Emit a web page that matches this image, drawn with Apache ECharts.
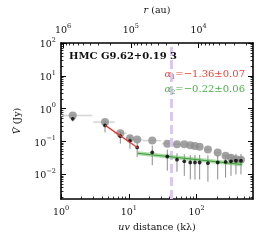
<!DOCTYPE html>
<html>
<head>
<meta charset="utf-8">
<script src="https://cdn.jsdelivr.net/npm/echarts@6/dist/echarts.min.js"></script>
<style>html,body{margin:0;padding:0;background:#fff}#c{width:265px;height:241px}</style>
</head>
<body>
<div id="c"></div>
<script>
// ---- data ----
const uv      = [1.49, 4.46, 7.5, 10.4, 13.3, 22.2, 37, 51.4, 65.9, 80.8, 94.7, 111, 147, 205, 268, 322, 381, 452];
const grayV   = [0.62, 0.39, 0.18, 0.127, 0.115, 0.107, 0.086, 0.083, 0.082, 0.077, 0.073, 0.069, 0.057, 0.046, 0.037, 0.032, 0.029, 0.028];
const blackV  = [0.49, 0.31, 0.146, 0.105, 0.066, 0.047, 0.035, 0.028, 0.025, 0.023, 0.023, 0.023, 0.022, 0.023, 0.024, 0.025, 0.026, 0.026];
const blackErr= [0.08, 0.12, 0.06, 0.045, 0.032, 0.028, 0.022, 0.016, 0.016, 0.016, 0.016, 0.016, 0.016, 0.016, 0.016, 0.016, 0.016, 0.016];
const binLo   = [1.0, 3.0, 6.0, 9.3, 11.7, 16, 31, 44, 58, 73, 88, 103, 130, 180, 245, 300, 355, 420];
const binHi   = [2.9, 6.2, 9.3, 11.7, 16, 30, 44, 58, 73, 88, 103, 118, 165, 230, 290, 345, 410, 480];
const fit1    = [[4.5, 0.31], [13.5, 0.065]];
const fit2    = [[13.5, 0.044], [470, 0.020]];
const markerUV = 42;
const alpha1Text = '−1.36±0.07';
const alpha2Text = '−0.22±0.06';
const titleText = 'HMC G9.62+0.19 3';
const auPerInvKl = 1.07e6; // r(au) = C / uv(kλ)
const xMin = 1, xMax = 680, yMin = 0.00178, yMax = 100;
const xMajor = [1, 10, 100];
const xMinor = [2,3,4,5,6,7,8,9,20,30,40,50,60,70,80,90,200,300,400,500,600];
const rMajor = [1e4, 1e5, 1e6];
const rMinor = [2e3,3e3,4e3,5e3,6e3,7e3,8e3,9e3,2e4,3e4,4e4,5e4,6e4,7e4,8e4,9e4,2e5,3e5,4e5,5e5,6e5,7e5,8e5,9e5];
const yMajor = [0.01, 0.1, 1, 10, 100];
const yMinor = [0.002,0.003,0.004,0.005,0.006,0.007,0.008,0.009,0.02,0.03,0.04,0.05,0.06,0.07,0.08,0.09,0.2,0.3,0.4,0.5,0.6,0.7,0.8,0.9,2,3,4,5,6,7,8,9,20,30,40,50,60,70,80,90];

const FF = '"DejaVu Serif", "Liberation Serif", serif';
const rich = {
  b: {fontSize: 9.5, fontFamily: FF, color: '#111', verticalAlign: 'bottom', lineHeight: 13},
  s: {fontSize: 6.5, fontFamily: FF, color: '#111', verticalAlign: 'top', lineHeight: 8}
};
function pow10(v) {
  const e = Math.round(Math.log10(v));
  return '{b|10}{s|' + (e < 0 ? '−' + (-e) : e) + '}';
}
const lineCol = '#000';
function baseAxis(extra) {
  return Object.assign({
    type: 'log', logBase: 10,
    splitLine: {show: false},
    axisLine: {show: true, lineStyle: {color: lineCol, width: 1.6}},
  }, extra);
}
function majorTick(vals) { return {show: true, inside: true, length: 5, customValues: vals, lineStyle: {color: lineCol, width: 1}}; }
function minorTick(vals) { return {show: true, inside: true, length: 2.5, customValues: vals, lineStyle: {color: lineCol, width: 0.8}}; }
function alphaRich(col) {
  return {
    i: {fontFamily: FF, fontSize: 10, fontStyle: 'italic', fill: col, verticalAlign: 'middle', lineHeight: 14},
    s: {fontFamily: FF, fontSize: 6.5, fill: col, verticalAlign: 'bottom', lineHeight: 6},
    n: {fontFamily: FF, fontSize: 10, fill: col, verticalAlign: 'middle', lineHeight: 14}
  };
}

const rMin = auPerInvKl / xMax, rMax = auPerInvKl / xMin;
const nameStyle = {fontFamily: FF, fontSize: 9.5, color: '#111', rich: {i: {fontFamily: FF, fontSize: 9.5, fontStyle: 'italic', color: '#111'}}};

const option = {
  animation: false,
  grid: {left: 61, right: 12, top: 43, bottom: 42},
  xAxis: [
    baseAxis({min: xMin, max: xMax, position: 'bottom', axisTick: majorTick(xMajor),
      axisLabel: {customValues: xMajor, formatter: pow10, rich: rich, margin: 6},
      name: '{i|uv} distance (kλ)', nameLocation: 'middle', nameGap: 22, nameTextStyle: nameStyle}),
    baseAxis({min: xMin, max: xMax, position: 'bottom', axisLine: {show: false}, axisTick: minorTick(xMinor), axisLabel: {show: false}}),
    baseAxis({min: rMin, max: rMax, inverse: true, position: 'top', axisTick: majorTick(rMajor),
      axisLabel: {customValues: rMajor, formatter: pow10, rich: rich, margin: 7},
      name: '{i|r} (au)', nameLocation: 'middle', nameGap: 27, nameTextStyle: nameStyle}),
    baseAxis({min: rMin, max: rMax, inverse: true, position: 'top', axisLine: {show: false}, axisTick: minorTick(rMinor), axisLabel: {show: false}})
  ],
  yAxis: [
    baseAxis({min: yMin, max: yMax, position: 'left', axisTick: majorTick(yMajor),
      axisLabel: {customValues: yMajor, formatter: pow10, rich: rich, margin: 5},
      name: '{i|V̄} (Jy)', nameLocation: 'middle', nameGap: 38, nameRotate: 90, nameTextStyle: nameStyle}),
    baseAxis({min: yMin, max: yMax, position: 'left', axisLine: {show: false}, axisTick: minorTick(yMinor), axisLabel: {show: false}}),
    baseAxis({min: yMin, max: yMax, position: 'right', axisTick: majorTick(yMajor), axisLabel: {show: false}}),
    baseAxis({min: yMin, max: yMax, position: 'right', axisLine: {show: false}, axisTick: minorTick(yMinor), axisLabel: {show: false}})
  ],
  series: [
    {
      type: 'line', data: [], xAxisIndex: 0, yAxisIndex: 0, z: 1,
      markLine: {silent: true, symbol: 'none', label: {show: false},
        lineStyle: {color: '#d9c9f0', width: 3, type: [9, 4]},
        data: [{xAxis: markerUV}]}
    },
    {
      type: 'custom', xAxisIndex: 0, yAxisIndex: 0, z: 2,
      data: uv.map((u, i) => [binLo[i], binHi[i], grayV[i]]),
      renderItem: function (params, api) {
        const a = api.coord([api.value(0), api.value(2)]);
        const b = api.coord([api.value(1), api.value(2)]);
        return {type: 'line', shape: {x1: a[0], y1: a[1], x2: b[0], y2: b[1]}, style: {stroke: '#d6d6d6', lineWidth: 1.6}};
      }
    },
    {
      type: 'custom', xAxisIndex: 0, yAxisIndex: 0, z: 3,
      data: uv.map((u, i) => [u, blackV[i] - blackErr[i], blackV[i] + blackErr[i]]),
      renderItem: function (params, api) {
        const a = api.coord([api.value(0), api.value(1)]);
        const b = api.coord([api.value(0), api.value(2)]);
        return {type: 'line', shape: {x1: a[0], y1: a[1], x2: b[0], y2: b[1]}, style: {stroke: '#8a8a8a', lineWidth: 1}};
      }
    },
    {
      type: 'scatter', xAxisIndex: 0, yAxisIndex: 0, z: 4,
      data: uv.map((u, i) => [u, grayV[i]]), symbol: 'circle', symbolSize: 8,
      itemStyle: {color: '#8c8c8c'}
    },
    {
      type: 'line', xAxisIndex: 0, yAxisIndex: 0, z: 5, data: fit2, symbol: 'none',
      lineStyle: {color: 'rgba(110,190,100,0.55)', width: 4}
    },
    {
      type: 'line', xAxisIndex: 0, yAxisIndex: 0, z: 6, data: fit2, symbol: 'none',
      lineStyle: {color: '#3c9c3c', width: 1.2}
    },
    {
      type: 'scatter', xAxisIndex: 0, yAxisIndex: 0, z: 7,
      data: uv.map((u, i) => [u, blackV[i]]), symbol: 'circle', symbolSize: 3.8,
      itemStyle: {color: '#000'}
    },
    {
      type: 'line', xAxisIndex: 0, yAxisIndex: 0, z: 8, data: fit1, symbol: 'none',
      lineStyle: {color: '#e23a2e', width: 1.3}
    }
  ],
  graphic: [
    {type: 'text', left: 69, top: 51, z: 100,
      style: {text: titleText, fontFamily: FF, fontSize: 10, fontWeight: 'bold', fill: '#111'}},
    {type: 'text', right: 20, top: 69, z: 100,
      style: {text: '{i|α}{s|1}{n|=' + alpha1Text + '}', fill: '#e8443a', rich: alphaRich('#e8443a')}},
    {type: 'text', right: 20, top: 84, z: 100,
      style: {text: '{i|α}{s|2}{n|=' + alpha2Text + '}', fill: '#4cae4c', rich: alphaRich('#4cae4c')}}
  ]
};
const chart = echarts.init(document.getElementById('c'), null, {renderer: 'canvas'});
chart.setOption(option);
</script>
</body>
</html>
